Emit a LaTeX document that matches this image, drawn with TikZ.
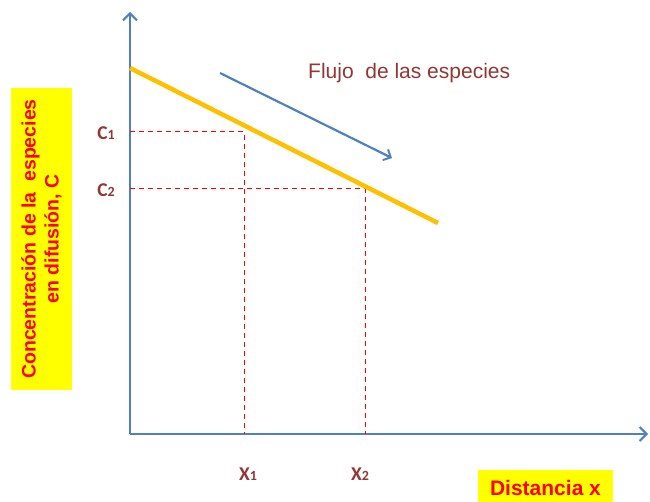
\documentclass[tikz,border=0pt]{standalone}
\usepackage{fontspec}
\setmainfont{Liberation Sans}
\newfontfamily\carl{Carlito}
\usetikzlibrary{arrows.meta}
\definecolor{axblue}{HTML}{4F81BD}
\definecolor{lineyel}{HTML}{FFC000}
\definecolor{brn}{HTML}{943634}
\definecolor{boxyel}{HTML}{FFFF00}
\begin{document}
\begin{tikzpicture}[x=1pt,y=-1pt,
  axis/.style={draw=axblue,line width=2.2pt,-{Straight Barb[length=7pt,width=14pt,line width=2pt]}},
  guide/.style={draw=red,line width=1pt,dash pattern=on 5pt off 4pt},
  tick/.style={text=brn,font=\carl\bfseries\fontsize{19.5}{20}\selectfont,inner sep=0pt},
  hl/.style={fill=boxyel,text=red,font=\bfseries\fontsize{19.5}{23}\selectfont,align=center,inner sep=0pt}]
\useasboundingbox (0,0) rectangle (650,502);
% axes
\coordinate (O) at (130,434);
\coordinate (Ytop) at (130,12);
\coordinate (Xend) at (648,434);
\draw[axis] (O) -- (Ytop);
\draw[axis] (O) -- (Xend);
% guide lines
\coordinate (P1) at (244,132);
\coordinate (P2) at (365,189);
\coordinate (Y1) at (130,132);
\coordinate (Y2) at (130,189);
\coordinate (X1) at (244,434);
\coordinate (X2) at (365,434);
\draw[guide] (Y1) -- (P1) -- (X1);
\draw[guide] (Y2) -- (P2) -- (X2);
% concentration line
\coordinate (La) at (130,68);
\coordinate (Lb) at (438,223);
\draw[lineyel,line width=4.5pt] (La) -- (Lb);
% flux arrow
\coordinate (Fa) at (220,73);
\coordinate (Fb) at (392,158);
\draw[draw=axblue,line width=2.2pt,-{Straight Barb[length=6pt,width=12pt,line width=2pt]}] (Fa) -- (Fb);
\node[text=brn,font=\fontsize{21}{24}\selectfont,anchor=west,inner sep=0pt] (flujo) at (308,73) {Flujo\ \ de las especies};
% tick labels
\node[tick] (c1) at (106,133) {C{\fontsize{14}{14}\selectfont 1}};
\node[tick] (c2) at (106,190) {C{\fontsize{14}{14}\selectfont 2}};
\node[tick] (x1) at (248,474) {X{\fontsize{14}{14}\selectfont 1}};
\node[tick] (x2) at (360,474) {X{\fontsize{14}{14}\selectfont 2}};
% yellow labels
\node[hl,minimum width=302pt,minimum height=61pt,rotate=90] (ylab) at (41.5,239) {Concentración de la\ \ especies\\en difusión, C};
\path[fill=boxyel] (478,470) rectangle (613,502);
\node[text=red,font=\bfseries\fontsize{21}{24}\selectfont,inner sep=0pt] (xlab) at (545.5,488) {Distancia x};
\end{tikzpicture}
\end{document}
